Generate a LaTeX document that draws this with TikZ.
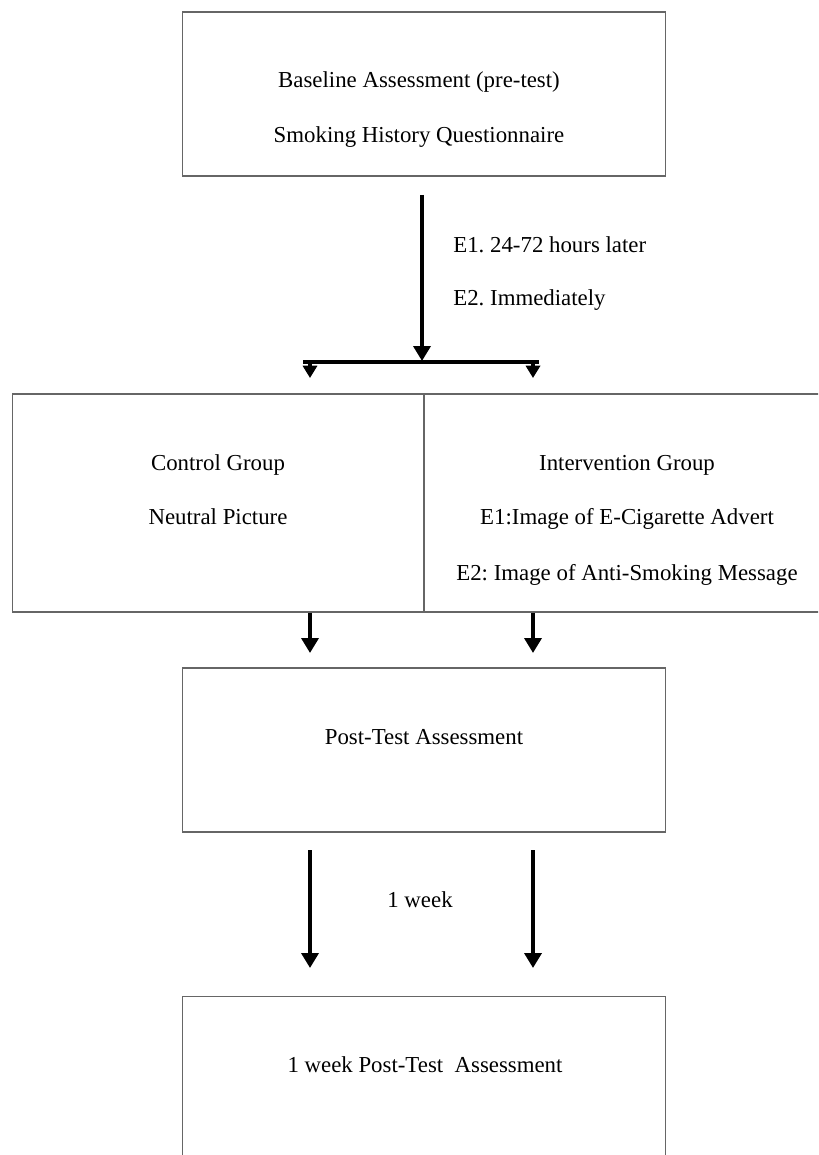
\documentclass[tikz,border=0pt]{standalone}
\usepackage{fontspec}
\setmainfont{Liberation Serif}
\usetikzlibrary{arrows.meta}
\frenchspacing

\tikzset{
  box/.style={draw=black!60,line width=0.6pt,minimum width=9.68cm,minimum height=3.28cm,inner sep=0pt},
  txt/.style={font=\fontsize{13}{15}\selectfont,text height=8.6pt,text depth=0pt,inner sep=0pt},
  flow/.style={-{Triangle[width=9.6pt,length=8.5pt]},line width=2.8pt},
  split/.style={-{Triangle[width=8pt,length=7pt]},line width=2.8pt},
}

\begin{document}
\begin{tikzpicture}[x=0.02cm,y=-0.02cm]
\useasboundingbox (0,0) rectangle (818,1155);
\clip (0,0) rectangle (818,1155);
% boxes
\node (base) [box] at (424,94) {};
\node (ctrl) [box,minimum width=8.24cm,minimum height=4.36cm] at (218,503) {};
\node (interv) [box,minimum width=8.12cm,minimum height=4.36cm] at (627,503) {};
\node (post) [box] at (424,750) {};
\node (week) [box] at (424,1078) {};
% texts
\node (baseA) [txt] at (419,80) {Baseline Assessment (pre-test)};
\node (baseB) [txt] at (419,135) {Smoking History Questionnaire};
\node (lagA) [txt,anchor=west] at (453,245) {E1. 24-72 hours later};
\node (lagB) [txt,anchor=west] at (453,298) {E2. Immediately};
\node (ctrlA) [txt] at (218,463) {Control Group};
\node (ctrlB) [txt] at (218,517) {Neutral Picture};
\node (intervA) [txt] at (627,463) {Intervention Group};
\node (intervB) [txt] at (627,517) {E1:Image of E-Cigarette Advert};
\node (intervC) [txt] at (627,573) {E2: Image of Anti-Smoking Message};
\node (postA) [txt] at (424,737) {Post-Test Assessment};
\node (gap) [txt] at (420,900) {1 week};
\node (weekA) [txt] at (425,1065) {1 week Post-Test\ \ Assessment};
%
\coordinate (drop) at (422,195);
\coordinate (join) at (422,361);
\coordinate (barL) at (303,362);
\coordinate (barR) at (539,362);
\coordinate (lfork) at (310,362);
\coordinate (rfork) at (533,362);
\coordinate (ltip) at (310,378);
\coordinate (rtip) at (533,378);
\coordinate (lpostin) at (310,653);
\coordinate (rpostin) at (533,653);
\coordinate (lout) at (310,850);
\coordinate (rout) at (533,850);
\coordinate (lin) at (310,968);
\coordinate (rin) at (533,968);
%
\path[flow](drop) edge (join);
\path[line width=2.8pt](barL) edge (barR);
\path[split](lfork) edge (ltip);
\path[split](rfork) edge (rtip);
\path[flow](ctrl.south -| lfork) edge (lpostin);
\path[flow](interv.south -| rfork) edge (rpostin);
\path[flow](lout) edge (lin);
\path[flow](rout) edge (rin);
\end{tikzpicture}
\end{document}
